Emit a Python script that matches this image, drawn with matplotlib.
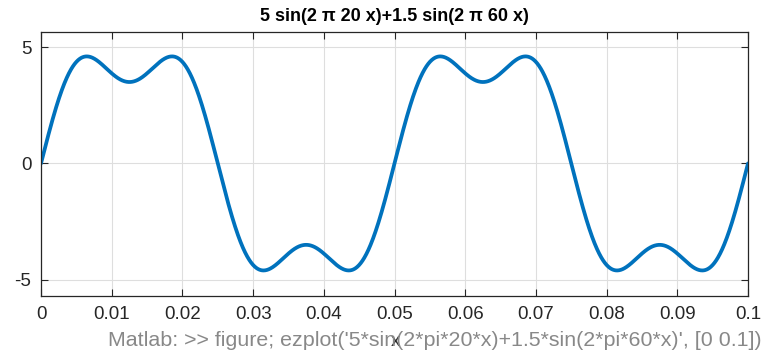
import numpy as np
import matplotlib
matplotlib.use("Agg")
import matplotlib.pyplot as plt

# Function components read from the title: amplitude, frequency (Hz)
amplitudes = [5.0, 1.5]
frequencies = [20.0, 60.0]
x_range = [0.0, 0.1]
x_ticks = [0, 0.01, 0.02, 0.03, 0.04, 0.05, 0.06, 0.07, 0.08, 0.09, 0.1]
x_tick_labels = ["0", "0.01", "0.02", "0.03", "0.04", "0.05", "0.06", "0.07", "0.08", "0.09", "0.1"]
y_ticks = [-5, 0, 5]
y_tick_labels = ["-5", "0", "5"]

plt.rcParams['font.family'] = ['Liberation Sans', 'DejaVu Sans']

x = np.linspace(x_range[0], x_range[1], 2000)
y = sum(a * np.sin(2 * np.pi * f * x) for a, f in zip(amplitudes, frequencies))

fig = plt.figure(figsize=(7.65, 3.54), dpi=100)
ax = fig.add_axes([0.0536, 0.1638, 0.9242, 0.7458])
ax.plot(x, y, color="#0072BD", linewidth=2.7, solid_capstyle="round")
ax.set_xlim(x_range)
ax.set_ylim(-5.7, 5.65)
ax.set_xticks(x_ticks)
ax.set_xticklabels(x_tick_labels)
ax.set_yticks(y_ticks)
ax.set_yticklabels(y_tick_labels)
ax.grid(True, color="#dedede", linewidth=0.8)
ax.set_axisbelow(True)
ax.tick_params(direction="in", top=True, right=True, length=5, width=0.8,
               labelsize=13.5, colors="#262626", pad=7)
for s in ax.spines.values():
    s.set_linewidth(0.9)
    s.set_color("#262626")
ax.set_title("5 sin(2 π 20 x)+1.5 sin(2 π 60 x)", fontsize=13, fontweight="bold", pad=8)
fig.text(395 / 765, 1 - 341 / 354, "x", fontsize=13.5, color="#262626", ha="center", va="center")
fig.text(435 / 765, 1 - 340 / 354,
         "Matlab: >> figure; ezplot('5*sin(2*pi*20*x)+1.5*sin(2*pi*60*x)', [0 0.1])",
         fontsize=15.4, color="#888888", ha="center", va="center")
fig.savefig("out.png", dpi=100)
